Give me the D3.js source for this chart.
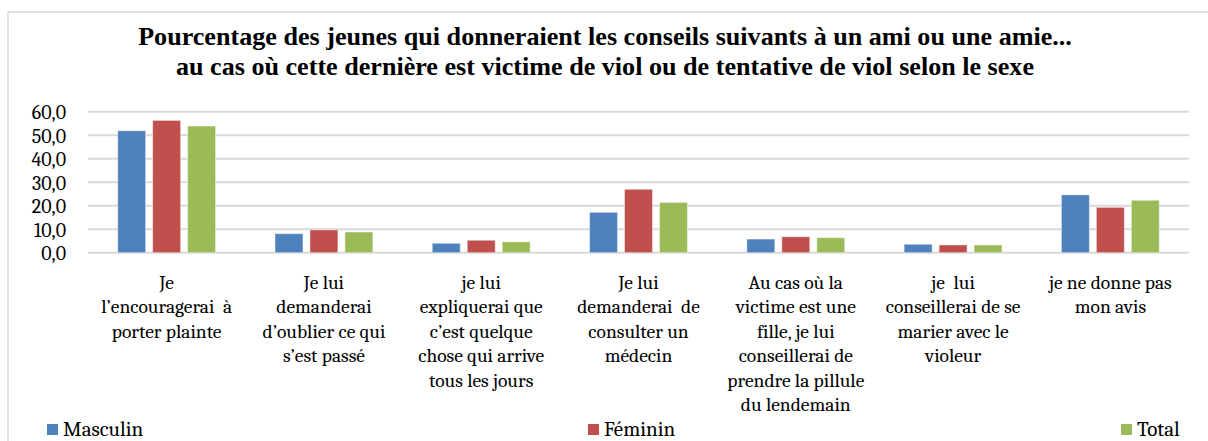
<!DOCTYPE html>
<html><head><meta charset="utf-8">
<script src="https://cdn.jsdelivr.net/npm/d3@7"></script>
<style>html,body{margin:0;padding:0;background:#fff;}svg{display:block;}</style>
</head><body>
<script>
const categories = [
  "Je\nl’encouragerai  à\nporter plainte",
  "Je lui\ndemanderai\nd’oublier ce qui\ns’est passé",
  "je lui\nexpliquerai que\nc’est quelque\nchose qui arrive\ntous les jours",
  "Je lui\ndemanderai  de\nconsulter un\nmédecin",
  "Au cas où la\nvictime est une\nfille, je lui\nconseillerai de\nprendre la pillule\ndu lendemain",
  "je  lui\nconseillerai de se\nmarier avec le\nvioleur",
  "je ne donne pas\nmon avis"
];
const seriesNames = ["Masculin", "Féminin", "Total"];
const masculin = [51.9, 8.1, 4.0, 17.2, 5.8, 3.6, 24.6];
const feminin  = [56.3, 9.7, 5.3, 27.0, 6.8, 3.3, 19.3];
const total    = [53.9, 8.8, 4.6, 21.4, 6.4, 3.3, 22.3];
const yTicks = [0, 10, 20, 30, 40, 50, 60];
const titleLines = [
  "Pourcentage des jeunes qui donneraient les conseils suivants à un ami ou une amie...",
  "au cas où cette dernière est victime de viol ou de tentative de viol selon le sexe"
];
const colors = ["#4F81BD", "#C0504D", "#9BBB59"];
const seriesValues = [masculin, feminin, total];

(function() {
const W = 1208, H = 441;
const svg = d3.select("body").append("svg").attr("width", W).attr("height", H);
const titleFont = "Liberation Serif";
const bodyFont = "Caladea";

svg.append("rect").attr("x", 8).attr("y", 12).attr("width", 1300).attr("height", 600)
  .attr("fill", "none").attr("stroke", "#D9D9D9").attr("stroke-width", 1.5);

const titles = svg.append("g").selectAll("text").data(titleLines).join("text")
  .attr("x", 605).attr("y", (d, i) => 45 + i * 29.5)
  .attr("text-anchor", "middle")
  .style("font-family", titleFont).style("font-weight", "bold").style("font-size", "22px")
  .attr("fill", "#000")
  .text(d => d);
// fit first line to the reference width
const len0 = titles.nodes()[0].getComputedTextLength();
const fs = Math.max(20, Math.min(28, 22 * 934 / len0));
titles.style("font-size", fs + "px");

const pLeft = 88, pRight = 1189, pTop = 111.7, pBottom = 252.7;
const x = d3.scaleBand().domain(d3.range(categories.length)).range([pLeft, pRight]).paddingInner(0).paddingOuter(0);
const y = d3.scaleLinear().domain([0, 60]).range([pBottom, pTop]);

svg.append("g").selectAll("line").data(yTicks).join("line")
  .attr("x1", pLeft).attr("x2", pRight)
  .attr("y1", d => y(d)).attr("y2", d => y(d))
  .attr("stroke", "#D9D9D9").attr("stroke-width", 2);

const yAxis = d3.axisLeft(y).tickValues(yTicks).tickSize(0).tickPadding(0)
  .tickFormat(d => d3.format(".1f")(d).replace(".", ","));
const yg = svg.append("g").attr("transform", `translate(66,0)`).call(yAxis);
yg.select(".domain").remove();
yg.selectAll("text").style("font-family", bodyFont).style("font-size", "20px").attr("fill", "#000").attr("dy", "0.35em");

const groupW = x.bandwidth() * 2 / 3;
const slot = groupW / 3;
const barW = slot * 0.8;
seriesValues.forEach((vals, s) => {
  svg.append("g").selectAll("rect").data(vals).join("rect")
    .attr("x", (d, i) => x(i) + (x.bandwidth() - groupW) / 2 + s * slot + (slot - barW) / 2)
    .attr("y", d => y(d))
    .attr("width", barW)
    .attr("height", d => y(0) - y(d))
    .attr("fill", colors[s])
    .attr("stroke", "rgba(255,255,255,0.45)").attr("stroke-width", 1);
});

const xAxis = d3.axisBottom(x).tickSize(0).tickFormat("");
const xg = svg.append("g").attr("transform", `translate(0,${pBottom})`).call(xAxis);
xg.select(".domain").remove();
xg.selectAll(".tick").each(function(d) {
  const t = d3.select(this).append("text")
    .attr("text-anchor", "middle").style("font-family", bodyFont).style("font-size", "19.5px")
    .style("white-space", "pre").attr("fill", "#000");
  categories[d].split("\n").forEach((ln, k) => {
    t.append("tspan").attr("x", 0).attr("y", 36 + k * 24.5).text(ln);
  });
});

const lx = d3.scalePoint().domain(seriesNames).range([47, 1121]);
const lg = svg.append("g").selectAll("g").data(seriesNames).join("g")
  .attr("transform", (d, i) => `translate(${lx(d) + (i === 1 ? 4 : 0)},0)`);
lg.append("rect").attr("x", 0).attr("y", 424).attr("width", 11).attr("height", 11)
  .attr("fill", (d, i) => colors[i]);
lg.append("text").attr("x", 16).attr("y", 436)
  .style("font-family", bodyFont).style("font-size", "21px").attr("fill", "#000").text(d => d);
})();
</script>
</body></html>
